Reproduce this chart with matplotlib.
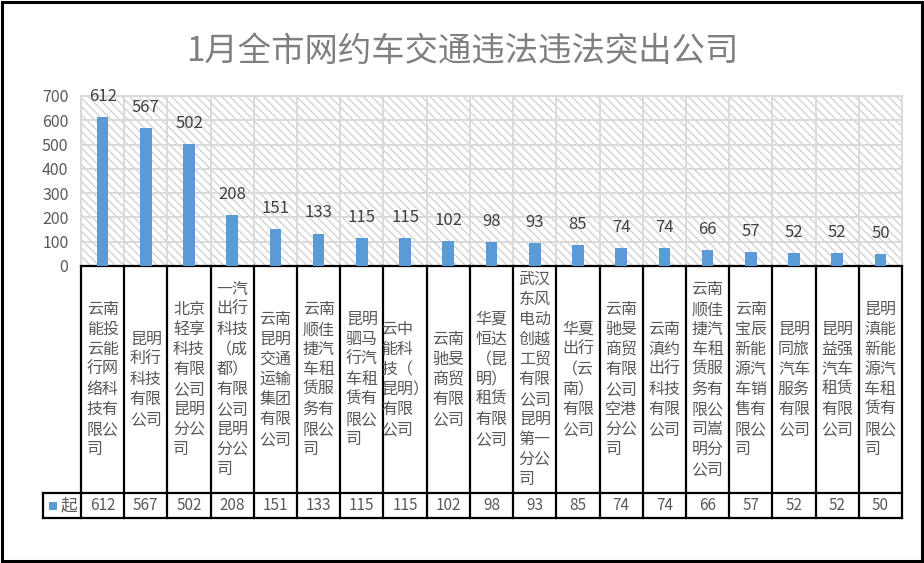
import matplotlib
matplotlib.use('Agg')
import matplotlib.pyplot as plt
import matplotlib.transforms as mtransforms
from matplotlib.patches import Rectangle

plt.rcParams['font.family'] = ['Noto Sans CJK SC', 'DejaVu Sans']
plt.rcParams['hatch.color'] = '#d0d0d0'
plt.rcParams['hatch.linewidth'] = 0.9

title = '1月全市网约车交通违法违法突出公司'
series_name = '起'
companies = [
    '云南能投云能行网络科技有限公司',
    '昆明利行科技有限公司',
    '北京轻享科技有限公司昆明分公司',
    '一汽出行科技（成都）有限公司昆明分公司',
    '云南昆明交通运输集团有限公司',
    '云南顺佳捷汽车租赁服务有限公司',
    '昆明驷马行汽车租赁有限公司',
    '云中能科技（昆明）有限公司',
    '云南驰旻商贸有限公司',
    '华夏恒达（昆明）租赁有限公司',
    '武汉东风电动创越工贸有限公司昆明第一分公司',
    '华夏出行（云南）有限公司',
    '云南驰旻商贸有限公司空港分公司',
    '云南滇约出行科技有限公司',
    '云南顺佳捷汽车租赁服务有限公司嵩明分公司',
    '云南宝辰新能源汽车销售有限公司',
    '昆明同旅汽车服务有限公司',
    '昆明益强汽车租赁有限公司',
    '昆明滇能新能源汽车租赁有限公司',
]
counts = [612, 567, 502, 208, 151, 133, 115, 115, 102, 98, 93, 85, 74, 74, 66, 57, 52, 52, 50]
yticks = [0, 100, 200, 300, 400, 500, 600, 700]

bar_color = '#5b9bd5'
text_gray = '#595959'


def wrap2(name):
    # two characters per line, a closing bracket never starts a line
    lines = []
    cur = ''
    for ch in name:
        if ch == '）' and lines and cur == '':
            lines[-1] += ch
            continue
        cur += ch
        if len(cur) == 2:
            lines.append(cur)
            cur = ''
    if cur:
        lines.append(cur)
    return lines


W, H = 924, 563
fig = plt.figure(figsize=(W / 100, H / 100), dpi=100, facecolor='white')

# plot area in pixels
left, right, top, bottom = 81, 902, 96, 266
row_line = 493
tab_bottom = 518
leg_left = 43

ax = fig.add_axes([left / W, 1 - bottom / H, (right - left) / W, (bottom - top) / H])
n = len(counts)
x = list(range(n))

ax.set_xlim(-0.5, n - 0.5)
ax.set_ylim(0, 700)

# hatched background
ax.add_patch(Rectangle((0, 0), 1, 1, transform=ax.transAxes, facecolor='white',
                       edgecolor='#d0d0d0', hatch='\\\\\\\\', lw=0, zorder=0))

ax.set_axisbelow(True)
ax.bar(x, counts, width=0.27, color=bar_color, zorder=3)

for xi, v in zip(x, counts):
    ax.annotate(str(v), (xi, v), xytext=(0, 15), textcoords='offset points',
                ha='center', va='center', fontsize=12, color='#404040', zorder=4)

ax.set_yticks(yticks)
ax.set_yticklabels([str(t) for t in yticks], fontsize=11.5, color=text_gray)
ax.set_xticks([])
ax.set_xticks([i - 0.5 for i in range(n + 1)], minor=True)
ax.tick_params(axis='y', length=0, pad=9)
ax.tick_params(axis='x', which='both', length=0, labelbottom=False)
ax.grid(axis='y', which='major', color='#d9d9d9', lw=1.3, zorder=1)
ax.grid(axis='x', which='minor', color='#d9d9d9', lw=1.3, zorder=1)
for s in ['left', 'right', 'top']:
    ax.spines[s].set_color('#d9d9d9')
    ax.spines[s].set_linewidth(1.3)
ax.spines['bottom'].set_color('black')
ax.spines['bottom'].set_linewidth(1.6)

# data table below the axis
ph = bottom - top
def yax(py):
    return -(py - bottom) / ph

trans = mtransforms.blended_transform_factory(ax.transData, ax.transAxes)
lw = 1.6
for i in range(n + 1):
    ax.plot([i - 0.5, i - 0.5], [0, yax(tab_bottom)], transform=trans,
            color='black', lw=lw, clip_on=False, solid_capstyle='projecting')

leg_x = -(left - leg_left) / (right - left)
for py in [row_line, tab_bottom]:
    ax.plot([leg_x, 1], [yax(py), yax(py)], transform=ax.transAxes,
            color='black', lw=lw, clip_on=False, solid_capstyle='projecting')
ax.plot([leg_x, leg_x], [yax(row_line), yax(tab_bottom)], transform=ax.transAxes,
        color='black', lw=lw, clip_on=False, solid_capstyle='projecting')

name_fs = 11.5
em = name_fs * 100 / 72   # width of one CJK character in pixels
pitch = 20                # line pitch in pixels
name_y = yax((bottom + row_line) / 2)
val_y = yax((row_line + tab_bottom) / 2)
for xi, name, v in zip(x, companies, counts):
    lines = wrap2(name)
    k = len(lines)
    wmax = max(len(l) for l in lines) * em
    for j, line in enumerate(lines):
        t = mtransforms.offset_copy(trans, fig=fig, x=-wmax / 2,
                                    y=-(j - (k - 1) / 2) * pitch, units='dots')
        ax.text(xi, name_y, line, transform=t, ha='left', va='center',
                fontsize=name_fs, color=text_gray)
    ax.text(xi, val_y, str(v), transform=trans, ha='center', va='center',
            fontsize=11, color=text_gray)

# legend key inside the table
ax.add_patch(Rectangle((leg_x + 6 / (right - left), val_y - 4.5 / ph), 8 / (right - left), 8.5 / ph,
                       transform=ax.transAxes, facecolor=bar_color, lw=0, clip_on=False))
ax.text(leg_x + 18 / (right - left), val_y, series_name, transform=ax.transAxes,
        ha='left', va='center', fontsize=12, color=text_gray)

fig.text(0.5, 1 - 52 / H, title, ha='center', va='center', fontsize=24, color='#7f7f7f')

# outer frame
fig.add_artist(Rectangle((1.5 / W, 2 / H), 920 / W, 559.5 / H, transform=fig.transFigure,
                         fill=False, edgecolor='black', lw=2.2))

fig.savefig('out.png', dpi=100, facecolor='white')
